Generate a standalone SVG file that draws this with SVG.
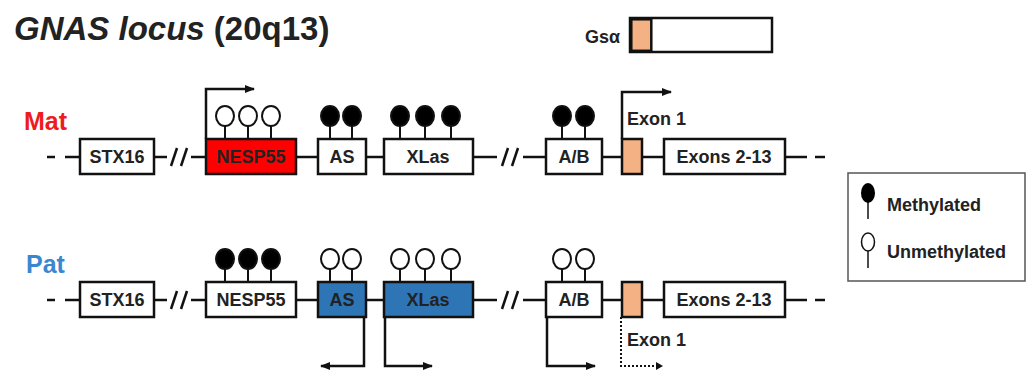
<svg xmlns="http://www.w3.org/2000/svg" width="1030" height="372" viewBox="0 0 1030 372">
<defs>
<style>
text{font-family:"Liberation Sans",Arial,sans-serif;font-weight:bold;fill:#222}
.box{stroke:#111;stroke-width:2.5;fill:#fff}
.red{fill:#ff0000}
.blue{fill:#2e75b6}
.or{fill:#f4b183}
.ln{stroke:#111;stroke-width:2.5;fill:none}
.sl{stroke:#111;stroke-width:2.5}
.dot{stroke:#111;stroke-width:2;fill:none;stroke-dasharray:2 2}
.stk{stroke:#111;stroke-width:2}
.m{fill:#000;stroke:#111;stroke-width:2}
.u{fill:#fff;stroke:#111;stroke-width:2}
.lbl{font-size:18px;text-anchor:middle}
</style>
<marker id="ah" viewBox="0 0 10 10" refX="9" refY="5" markerWidth="4" markerHeight="4" orient="auto-start-reverse" markerUnits="strokeWidth">
<path d="M0,1 L10,5 L0,9 z" fill="#111"/>
</marker>
<g id="meth"><line class="stk" x1="0" y1="0" x2="0" y2="14"/><ellipse class="m" cx="0" cy="-9" rx="9" ry="10"/></g>
<g id="unmeth"><line class="stk" x1="0" y1="0" x2="0" y2="14"/><ellipse class="u" cx="0" cy="-9" rx="9" ry="10"/></g>
<g id="brk"><line class="sl" x1="-8" y1="9" x2="-2" y2="-9"/><line class="sl" x1="2" y1="9" x2="8" y2="-9"/></g>
</defs>
<rect width="1030" height="372" fill="#fff"/>

<g id="title">
<text x="14" y="40" font-size="33"><tspan font-style="italic">GNAS locus</tspan> (20q13)</text>
</g>

<g id="gsa">
<text x="585" y="43" font-size="18">Gsα</text>
<rect class="box" x="630" y="18" width="142" height="34"/>
<rect class="or" x="631.3" y="19.3" width="20" height="31.5" stroke="#111" stroke-width="2.5"/>
</g>

<g id="labels">
<text x="24" y="130" font-size="25" style="fill:#ee1c1c">Mat</text>
<text x="26" y="273" font-size="25" style="fill:#3a87cf">Pat</text>
</g>

<g id="connectors">
<!-- Mat backbone -->
<line class="ln" x1="47" y1="157" x2="55" y2="157"/>
<line class="ln" x1="65" y1="157" x2="80" y2="157"/>
<line class="ln" x1="154" y1="157" x2="167" y2="157"/>
<line class="ln" x1="191" y1="157" x2="206" y2="157"/>
<line class="ln" x1="296" y1="157" x2="318" y2="157"/>
<line class="ln" x1="366" y1="157" x2="384" y2="157"/>
<line class="ln" x1="473" y1="157" x2="497" y2="157"/>
<line class="ln" x1="523" y1="157" x2="546" y2="157"/>
<line class="ln" x1="602" y1="157" x2="622" y2="157"/>
<line class="ln" x1="642" y1="157" x2="664" y2="157"/>
<line class="ln" x1="785" y1="157" x2="807" y2="157"/>
<line class="ln" x1="815" y1="157" x2="825" y2="157"/>
<!-- Pat backbone -->
<line class="ln" x1="47" y1="300" x2="55" y2="300"/>
<line class="ln" x1="65" y1="300" x2="80" y2="300"/>
<line class="ln" x1="154" y1="300" x2="167" y2="300"/>
<line class="ln" x1="191" y1="300" x2="206" y2="300"/>
<line class="ln" x1="296" y1="300" x2="318" y2="300"/>
<line class="ln" x1="366" y1="300" x2="384" y2="300"/>
<line class="ln" x1="473" y1="300" x2="497" y2="300"/>
<line class="ln" x1="523" y1="300" x2="546" y2="300"/>
<line class="ln" x1="602" y1="300" x2="622" y2="300"/>
<line class="ln" x1="642" y1="300" x2="664" y2="300"/>
<line class="ln" x1="785" y1="300" x2="807" y2="300"/>
<line class="ln" x1="815" y1="300" x2="825" y2="300"/>
<!-- breaks -->
<use href="#brk" x="179" y="157"/>
<use href="#brk" x="510" y="157"/>
<use href="#brk" x="179" y="300"/>
<use href="#brk" x="510" y="300"/>
<!-- transcription arrows -->
<polyline class="ln" points="206,139 206,89 254,89" marker-end="url(#ah)"/>
<polyline class="ln" points="622,139 622,92 671,92" marker-end="url(#ah)"/>
<polyline class="ln" points="364,317 364,366 321,366" marker-end="url(#ah)"/>
<polyline class="ln" points="385,317 385,366 432,366" marker-end="url(#ah)"/>
<polyline class="ln" points="547,317 547,366 595,366" marker-end="url(#ah)"/>
<polyline class="dot" points="621,317 621,366 660,366"/>
<path d="M656,362 L663,366 L656,370 z" fill="#111"/>
</g>

<g id="mat-STX16"><rect class="box" x="80" y="139" width="74" height="35"/><text class="lbl" x="117" y="163">STX16</text></g>
<g id="mat-NESP55"><rect class="box red" x="206" y="139" width="90" height="35"/><text class="lbl" x="251" y="163">NESP55</text>
<use href="#unmeth" x="225" y="125"/><use href="#unmeth" x="248" y="125"/><use href="#unmeth" x="271" y="125"/></g>
<g id="mat-AS"><rect class="box" x="318" y="139" width="48" height="35"/><text class="lbl" x="342" y="163">AS</text>
<use href="#meth" x="330" y="125"/><use href="#meth" x="352" y="125"/></g>
<g id="mat-XLas"><rect class="box" x="384" y="139" width="89" height="35"/><text class="lbl" x="428" y="163">XLas</text>
<use href="#meth" x="400" y="125"/><use href="#meth" x="425" y="125"/><use href="#meth" x="451" y="125"/></g>
<g id="mat-AB"><rect class="box" x="546" y="139" width="56" height="35"/><text class="lbl" x="574" y="163">A/B</text>
<use href="#meth" x="562" y="125"/><use href="#meth" x="585" y="125"/></g>
<g id="mat-Exon1"><rect class="box or" x="622" y="139" width="20" height="35"/><text x="627" y="125" font-size="18">Exon 1</text></g>
<g id="mat-Exons2-13"><rect class="box" x="664" y="139" width="121" height="35"/><text class="lbl" x="724" y="163">Exons 2-13</text></g>

<g id="pat-STX16"><rect class="box" x="80" y="282" width="74" height="35"/><text class="lbl" x="117" y="306">STX16</text></g>
<g id="pat-NESP55"><rect class="box" x="206" y="282" width="90" height="35"/><text class="lbl" x="251" y="306">NESP55</text>
<use href="#meth" x="225" y="268"/><use href="#meth" x="248" y="268"/><use href="#meth" x="271" y="268"/></g>
<g id="pat-AS"><rect class="box blue" x="318" y="282" width="48" height="35"/><text class="lbl" x="342" y="306">AS</text>
<use href="#unmeth" x="330" y="268"/><use href="#unmeth" x="352" y="268"/></g>
<g id="pat-XLas"><rect class="box blue" x="384" y="282" width="89" height="35"/><text class="lbl" x="428" y="306">XLas</text>
<use href="#unmeth" x="400" y="268"/><use href="#unmeth" x="425" y="268"/><use href="#unmeth" x="451" y="268"/></g>
<g id="pat-AB"><rect class="box" x="546" y="282" width="56" height="35"/><text class="lbl" x="574" y="306">A/B</text>
<use href="#unmeth" x="562" y="268"/><use href="#unmeth" x="585" y="268"/></g>
<g id="pat-Exon1"><rect class="box or" x="622" y="282" width="20" height="35"/><text x="627" y="346" font-size="18">Exon 1</text></g>
<g id="pat-Exons2-13"><rect class="box" x="664" y="282" width="121" height="35"/><text class="lbl" x="724" y="306">Exons 2-13</text></g>

<g id="legend">
<rect x="848" y="173" width="177" height="108" fill="#fff" stroke="#555" stroke-width="1.5"/>
<line x1="868" y1="200" x2="868" y2="219" stroke="#111" stroke-width="1.5"/>
<ellipse cx="868" cy="193" rx="7" ry="10" fill="#000"/>
<text x="887" y="211" font-size="18">Methylated</text>
<line x1="868" y1="251" x2="868" y2="268" stroke="#111" stroke-width="1.5"/>
<ellipse cx="868" cy="242" rx="6.5" ry="9" fill="#fff" stroke="#111" stroke-width="1.5"/>
<text x="887" y="258" font-size="18">Unmethylated</text>
</g>
</svg>
